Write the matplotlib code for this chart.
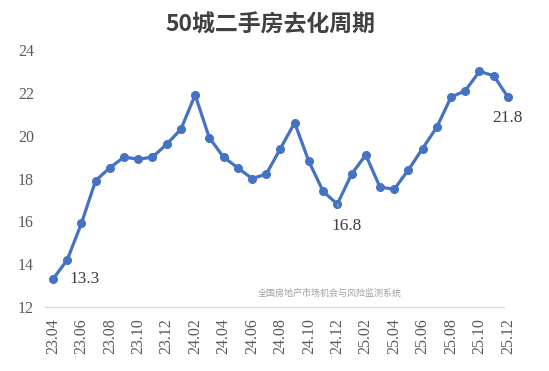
import matplotlib
matplotlib.use('Agg')
import matplotlib.pyplot as plt

# ====data====
months = ['23.04', '23.05', '23.06', '23.07', '23.08', '23.09', '23.10', '23.11', '23.12',
          '24.01', '24.02', '24.03', '24.04', '24.05', '24.06', '24.07', '24.08', '24.09',
          '24.10', '24.11', '24.12', '25.01', '25.02', '25.03', '25.04', '25.05', '25.06',
          '25.07', '25.08', '25.09', '25.10', '25.11', '25.12']
cycle = [13.3, 14.2, 15.9, 17.9, 18.5, 19.0, 18.9, 19.0, 19.6,
         20.3, 21.9, 19.9, 19.0, 18.5, 18.0, 18.2, 19.4, 20.6,
         18.8, 17.4, 16.8, 18.2, 19.1, 17.6, 17.5, 18.4, 19.4,
         20.4, 21.8, 22.1, 23.0, 22.8, 21.8]
labelled = {0: (12, 0), 20: (7, -16), 32: (0, -15)}  # index -> text offset in points

title = '50城二手房去化周期'
source = '全国房地产市场机会与风险监测系统'

# ====fonts====
plt.rcParams['font.family'] = ['Noto Sans CJK SC', 'DejaVu Sans']
serif = ['Liberation Serif', 'DejaVu Serif']

fig = plt.figure(figsize=(5.49, 3.71), dpi=100)
ax = fig.add_axes([45 / 549, 64 / 371, 475 / 549, 257 / 371])

x = list(range(len(months)))
ax.plot(x, cycle, color='#4472C4', linewidth=2.3, marker='o', markersize=5.5, zorder=3)

# data labels
for i, (dx, dy) in labelled.items():
    if dy == 0:
        ax.annotate(f'{cycle[i]:.1f}', (x[i], cycle[i]), xytext=(dx, dy), textcoords='offset points',
                    ha='left', va='center', fontsize=12.5, color='#404040', family=serif)
    else:
        ax.annotate(f'{cycle[i]:.1f}', (x[i], cycle[i]), xytext=(dx, dy), textcoords='offset points',
                    ha='center', va='center', fontsize=12.5, color='#404040', family=serif,
                    arrowprops=dict(arrowstyle='-', color='#A6A6A6', lw=0.8, shrinkA=7, shrinkB=3))

ax.set_xlim(-0.56, 32.85)
ax.set_ylim(12, 24)
ax.set_yticks(range(12, 25, 2))
ax.set_xticks(x[::2])
ax.set_xticklabels(months[::2], rotation=90)
for lab in ax.get_xticklabels() + ax.get_yticklabels():
    lab.set_family(serif)
    lab.set_fontsize(11.5)
    lab.set_color('#595959')
ax.tick_params(length=0, pad=8)

for side in ['top', 'right', 'left']:
    ax.spines[side].set_visible(False)
ax.spines['bottom'].set_color('#D9D9D9')
ax.spines['bottom'].set_linewidth(1.0)
ax.spines['bottom'].set_bounds(-0.56, 31.7)

fig.text(270 / 549, 1 - 25 / 371, title, ha='center', va='center', fontsize=16.5,
         fontweight='bold', color='#404040')
fig.text(330 / 549, 1 - 293 / 371, source, ha='center', va='center', fontsize=6.5, color='#A0A0A0')

plt.savefig('out.png', dpi=100)
